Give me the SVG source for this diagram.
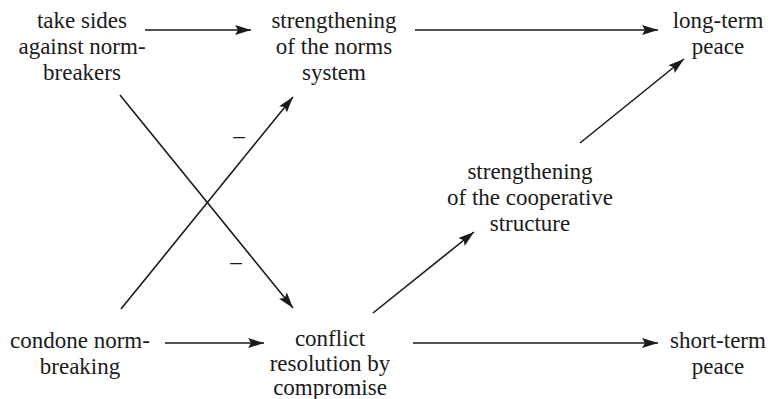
<svg xmlns="http://www.w3.org/2000/svg" width="772" height="399" viewBox="0 0 772 399">
  <style>
    text { font-family: 'Liberation Serif', Tinos, 'Times New Roman', Times, 'Nimbus Roman', 'Nimbus Roman No9 L', 'FreeSerif', 'Noto Serif', 'DejaVu Serif', Georgia, serif; font-size: 23px; fill: #1a1a1a; text-anchor: middle; }
    .edge { stroke: #1a1a1a; stroke-width: 1.6; fill: none; marker-end: url(#head); }
  </style>
  <defs>
    <marker id="head" markerUnits="userSpaceOnUse" markerWidth="18" markerHeight="12" refX="16" refY="5" orient="auto">
      <path d="M0,0 L16,5 L0,10 L3,5 Z" fill="#1a1a1a"/>
    </marker>
  </defs>
  <rect width="772" height="399" fill="#ffffff"/>

  <g id="take-sides">
    <text x="82" y="28">take sides</text>
    <text x="82" y="54">against norm-</text>
    <text x="82" y="80">breakers</text>
  </g>
  <g id="norms-system">
    <text x="334" y="28">strengthening</text>
    <text x="334" y="54">of the norms</text>
    <text x="334" y="80">system</text>
  </g>
  <g id="long-term">
    <text x="718" y="28">long-term</text>
    <text x="718" y="54">peace</text>
  </g>
  <g id="cooperative">
    <text x="530" y="179">strengthening</text>
    <text x="530" y="205">of the cooperative</text>
    <text x="530" y="231">structure</text>
  </g>
  <g id="condone">
    <text x="80" y="348">condone norm-</text>
    <text x="80" y="374">breaking</text>
  </g>
  <g id="compromise">
    <text x="330" y="346">conflict</text>
    <text x="330" y="371">resolution by</text>
    <text x="330" y="395">compromise</text>
  </g>
  <g id="short-term">
    <text x="718" y="348">short-term</text>
    <text x="718" y="374">peace</text>
  </g>

  <g id="connectors">
    <line class="edge" x1="145" y1="30" x2="251" y2="30"/>
    <line class="edge" x1="415" y1="30" x2="658" y2="30"/>
    <line class="edge" x1="165" y1="343" x2="264" y2="343"/>
    <line class="edge" x1="413" y1="343" x2="658" y2="343"/>
    <line class="edge" x1="120" y1="95" x2="293" y2="308"/>
    <line class="edge" x1="121" y1="309" x2="293" y2="97"/>
    <line class="edge" x1="373" y1="313" x2="474" y2="232"/>
    <line class="edge" x1="580" y1="143" x2="684" y2="59"/>
    <text x="239" y="143">–</text>
    <text x="236" y="269">–</text>
  </g>
</svg>
